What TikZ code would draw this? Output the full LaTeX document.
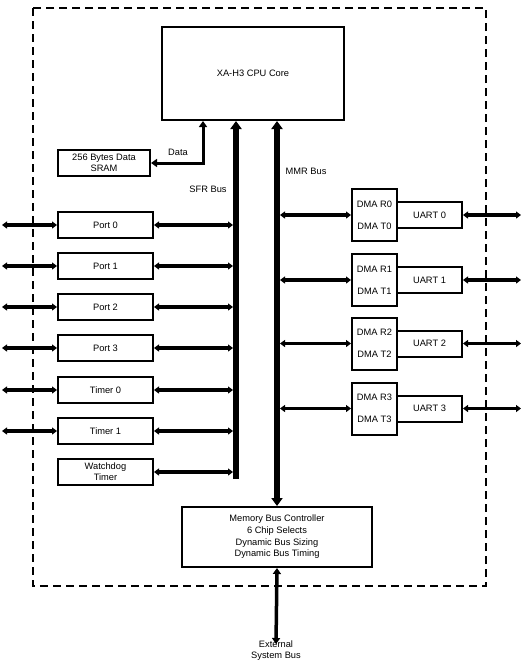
\documentclass[tikz,border=0pt]{standalone}
\usepackage{fontspec}
\setmainfont{Liberation Sans}
\usetikzlibrary{arrows.meta}
\tikzset{
  bigtip/.tip={Triangle[length=8pt,width=11pt]},
  datatip/.tip={Triangle[length=6pt,width=8pt]},
  smalltip/.tip={Triangle[length=5pt,width=7pt]},
}
\begin{document}
\begin{tikzpicture}[x=1pt,y=-1pt,
  box/.style={draw,line width=2pt,inner sep=0pt,align=center,font=\fontsize{9.3}{11}\selectfont},
  lbl/.style={inner sep=0pt,font=\fontsize{9.3}{11}\selectfont,align=center},
  conn/.style={line width=3.2pt,{smalltip}-{smalltip}},
  connB/.style={conn,line width=4pt},
  bus/.style={line width=6pt},
]
\useasboundingbox (0,0) rectangle (523,667);
\draw[line width=1.5pt,dash pattern=on 8pt off 5pt] (33,8) rectangle (486,586);

% boxes
\node[box,minimum width=182pt,minimum height=93pt] (cpu) at (253,73.5) {XA-H3 CPU Core};
\node[box,minimum width=92pt,minimum height=26pt] (sram) at (104,163) {256 Bytes Data\\SRAM};
\node[box,minimum width=95pt,minimum height=26pt] (port0) at (105.5,225) {Port 0};
\node[box,minimum width=95pt,minimum height=26pt] (port1) at (105.5,266) {Port 1};
\node[box,minimum width=95pt,minimum height=26pt] (port2) at (105.5,307) {Port 2};
\node[box,minimum width=95pt,minimum height=26pt] (port3) at (105.5,348) {Port 3};
\node[box,minimum width=95pt,minimum height=26pt] (tim0) at (105.5,390) {Timer 0};
\node[box,minimum width=95pt,minimum height=26pt] (tim1) at (105.5,431) {Timer 1};
\node[box,minimum width=95pt,minimum height=26pt] (wdt) at (105.5,472) {Watchdog\\Timer};

\foreach \i/\y in {0/215,1/280,2/343.5,3/408.5}{
  \node[box,minimum width=45pt,minimum height=52pt] (dma\i) at (374.5,\y) {DMA R\i\\[11pt]DMA T\i};
  \node[box,minimum width=65pt,minimum height=26pt] (uart\i) at (429.5,\y) {UART \i};
}

\node[box,minimum width=190pt,minimum height=60pt,font=\fontsize{9.3}{11.7}\selectfont] (mem) at (277,537)
  {Memory Bus Controller\\6 Chip Selects\\Dynamic Bus Sizing\\Dynamic Bus Timing};
\node[lbl,anchor=north] (ext) at (276,641) {External\\System Bus};

% labels
\node[lbl] (ldata) at (178,152) {Data};
\node[lbl] (lsfr) at (208,189) {SFR Bus};
\node[lbl] (lmmr) at (306,171) {MMR Bus};

% coordinates
\coordinate (sfrL) at (233,200);
\coordinate (sfrB) at (236,479);
\coordinate (mmrR) at (280,200);
\coordinate (dataX) at (203,163);
\coordinate (lfree) at (2,0);
\coordinate (rfree) at (521,0);

% port / timer connectors
\foreach \n/\s in {port0/conn,port1/connB,port2/conn,port3/conn,tim0/conn,tim1/connB}{
  \draw[\s] (lfree |- \n.west) -- (\n.west);
  \draw[\s] (\n.east) -- (\n.east -| sfrL);
}
\draw[conn] (wdt.east) -- (wdt.east -| sfrL);

% DMA / UART connectors
\foreach \i in {0,1,2,3}{
  \draw[conn] (mmrR |- dma\i.west) -- (dma\i.west);
  \draw[conn] (uart\i.east) -- (rfree |- uart\i.east);
}

% buses
\draw[bus,-{bigtip}] (sfrB) -- (sfrB |- cpu.south);
\draw[bus,{bigtip}-{bigtip}] (mem.north) -- (mem.north |- cpu.south);
\draw[line width=3pt,{datatip}-{datatip}] (dataX |- cpu.south) |- (sram.east);
\draw[line width=3.5pt,{datatip}-{datatip}] (mem.south) -- ([yshift=-3pt]ext.north);
\end{tikzpicture}
\end{document}
